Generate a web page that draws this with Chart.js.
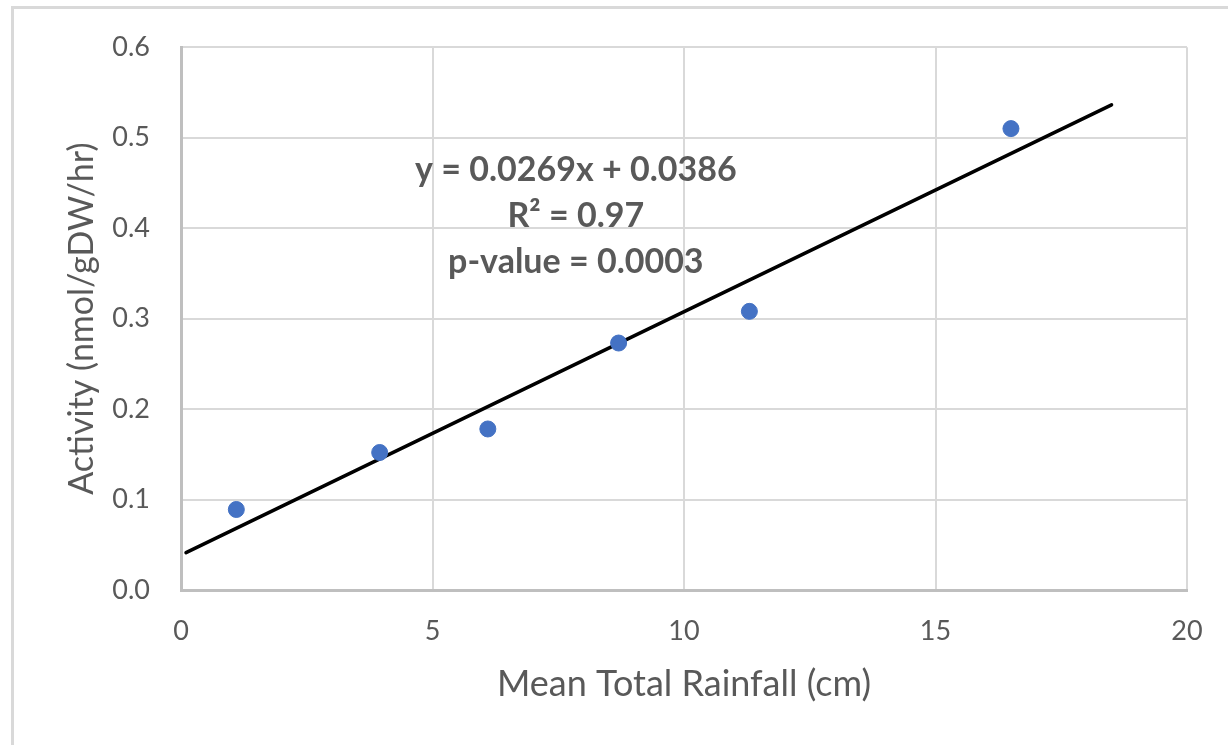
<!DOCTYPE html>
<html>
<head>
<meta charset="utf-8">
<script src="https://cdn.jsdelivr.net/npm/chart.js@4/dist/chart.umd.min.js"></script>
<style>
html,body{margin:0;padding:0;background:#fff;}
#wrap{position:relative;width:1228px;height:745px;}
canvas{display:block;}
</style>
</head>
<body>
<div id="wrap"><canvas id="c" width="1228" height="745"></canvas></div>
<script>
const rainfall = [1.1, 3.95, 6.1, 8.7, 11.3, 16.5];
const activity = [0.089, 0.152, 0.178, 0.273, 0.308, 0.510];
const trendSlope = 0.0269;
const trendIntercept = 0.0386;
const trendRange = [0.1, 18.5];
const annotationLines = ["y = 0.0269x + 0.0386", "R² = 0.97", "p-value = 0.0003"];
const xTicks = [0, 5, 10, 15, 20];
const yTicks = [0, 0.1, 0.2, 0.3, 0.4, 0.5, 0.6];

const FONT = "Lato, 'Open Sans', sans-serif";
const TXT = '#595959';

const pts = rainfall.map((x, i) => ({x, y: activity[i]}));
const trend = trendRange.map(x => ({x, y: trendSlope * x + trendIntercept}));

const framePlugin = {
  id: 'frame',
  beforeDraw(chart) {
    const ctx = chart.ctx;
    ctx.save();
    ctx.fillStyle = '#fff';
    ctx.fillRect(0, 0, chart.width, chart.height);
    ctx.strokeStyle = '#d9d9d9';
    ctx.lineWidth = 3;
    ctx.strokeRect(12.5, 7.5, 1300, 900);
    ctx.restore();
  }
};

const annotPlugin = {
  id: 'annot',
  afterDatasetsDraw(chart) {
    const ctx = chart.ctx;
    const xs = chart.scales.x, ys = chart.scales.y;
    const cx = xs.getPixelForValue(7.85);
    const y0 = ys.getPixelForValue(0.464);
    const step = ys.getPixelForValue(0) - ys.getPixelForValue(0.0508);
    ctx.save();
    ctx.fillStyle = TXT;
    ctx.font = "bold 34px " + FONT;
    ctx.textAlign = 'center';
    ctx.textBaseline = 'middle';
    annotationLines.forEach((t, i) => ctx.fillText(t, cx, y0 + i * step));
    ctx.restore();
  }
};

new Chart(document.getElementById('c'), {
  type: 'scatter',
  data: {
    datasets: [
      {
        label: 'Activity',
        data: pts,
        backgroundColor: '#4472C4',
        borderColor: '#4472C4',
        pointRadius: 8,
        pointHoverRadius: 8,
        order: 1
      },
      {
        label: 'Trend',
        type: 'line',
        data: trend,
        borderColor: '#000000',
        borderWidth: 3.5,
        borderCapStyle: 'round',
        pointRadius: 0,
        fill: false,
        order: 2
      }
    ]
  },
  options: {
    responsive: false,
    animation: false,
    events: [],
    layout: {padding: {left: 0, top: 46, right: 41, bottom: 0}},
    plugins: {legend: {display: false}, tooltip: {enabled: false}},
    scales: {
      x: {
        type: 'linear',
        min: 0, max: 20,
        afterBuildTicks(s) { s.ticks = xTicks.map(v => ({value: v})); },
        afterFit(s) { s.height = 155; },
        grid: {color: '#d9d9d9', lineWidth: 2, drawTicks: false},
        border: {color: '#bfbfbf', width: 3},
        ticks: {color: TXT, font: {family: FONT, size: 27}, padding: 25, maxRotation: 0},
        title: {display: true, text: 'Mean Total Rainfall (cm)', color: TXT,
                font: {family: FONT, size: 36}, padding: {top: 0, bottom: 39}}
      },
      y: {
        type: 'linear',
        min: 0, max: 0.6,
        afterBuildTicks(s) { s.ticks = yTicks.map(v => ({value: v})); },
        afterFit(s) { s.width = 181; },
        grid: {color: '#d9d9d9', lineWidth: 2, drawTicks: false},
        border: {color: '#bfbfbf', width: 3},
        ticks: {color: TXT, font: {family: FONT, size: 27}, padding: 31,
                callback: v => v.toFixed(1)},
        title: {display: true, text: 'Activity (nmol/gDW/hr)', color: TXT,
                font: {family: FONT, size: 34}, padding: {top: 62, bottom: 0}}
      }
    }
  },
  plugins: [framePlugin, annotPlugin]
});
</script>
</body>
</html>
